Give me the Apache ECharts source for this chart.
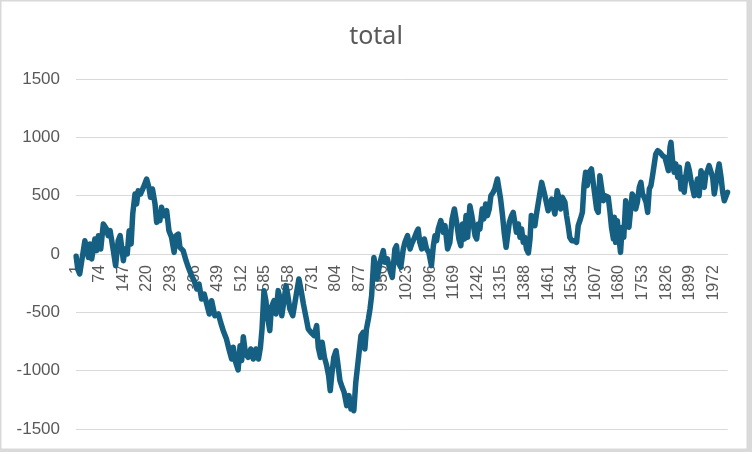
<!DOCTYPE html>
<html>
<head>
<meta charset="utf-8">
<script src="https://cdn.jsdelivr.net/npm/echarts@6/dist/echarts.min.js"></script>
<style>
html,body{margin:0;padding:0;background:#fff;}
#chart{width:752px;height:452px;}
</style>
</head>
<body>
<div id="chart"></div>
<script>
// Number of categories on the x axis (1..N)
const categoryCount = 2016;
// Category numbers (1-based) of the points
const pointCategory = [
1,6,12,18,28,39,44,49,59,64,70,77,85,95,100,106,116,123,131,137,142,147,152,159,165,171,176,183,188,193,200,209,219,226,231,237,245,250,255,260,265,273,281,288,296,304,310,317,322,332,341,348,
358,366,374,381,389,397,405,413,420,430,441,448,456,466,475,482,487,493,502,508,513,518,525,533,541,549,557,565,571,576,582,588,593,600,605,613,619,626,631,637,644,650,655,662,671,678,683,690,697,704,712,719,727,737,745,750,757,762,769,776,782,787,792,798,805,
810,817,824,830,838,845,851,856,860,866,874,882,889,894,899,905,910,915,918,922,927,932,941,951,956,964,972,979,987,992,997,1005,1013,1018,1026,1034,1039,1046,1054,1059,1064,1070,1078,1085,1092,1100,1106,1111,1116,1121,1129,1137,1142,1150,1157,1164,1171,1178,1185,
1191,1196,1202,1207,1212,1219,1225,1235,1240,1245,1250,1257,1262,1268,1273,1279,1284,1291,1296,1304,1309,1314,1320,1325,1331,1336,1341,1348,1353,1358,1363,1369,1374,1379,1384,1389,1394,1400,1405,1409,1415,1420,1425,1430,1436,1441,1446,1451,1456,1461,1467,1472,1477,1482,1489,1494,1500,1505,1513,1518,1523,1528,1534,1541,1549,1554,1561,1567,1572,1577,1582,1588,
1595,1601,1611,1616,1621,1627,1632,1637,1642,1647,1652,1657,1663,1666,1670,1675,1680,1685,1690,1695,1701,1706,1711,1716,1721,1726,1732,1737,1743,1748,1753,1758,1764,1769,1774,1779,1784,1789,1794,1800,1807,1815,1822,1828,1833,1838,1841,1846,1851,1856,1862,1867,1872,1877,1882,1888,1893,1898,1903,1908,1913,1918,1923,1928,1934,1939,1944,1949,1954,1959,1965,1970,1975,1980,1985,1990,1996,2001,2006,2011,2016
];
// "total" values at those categories
const totalValues = [
-20,-130,-171,-186,114,-29,86,-43,129,29,157,43,257,214,157,200,29,-100,114,157,57,-57,43,0,200,86,343,514,429,543,514,571,643,571,486,557,429,271,343,286,400,329,371,200,143,14,157,171,57,29,-57,-114,
-186,-229,-300,-257,-386,-343,-429,-514,-400,-529,-514,-586,-657,-729,-829,-900,-800,-914,-994,-786,-914,-709,-857,-886,-814,-900,-814,-900,-800,-643,-314,-400,-543,-657,-457,-400,-514,-314,-371,-529,-400,-271,-343,-471,-529,-414,-329,-214,-314,-429,-543,-643,-671,-700,-614,-800,-886,-757,-886,-957,-1043,-1171,-1029,-886,-829,
-929,-1086,-1143,-1186,-1300,-1214,-1329,-1286,-1343,-1100,-900,-700,-671,-814,-643,-557,-471,-357,-214,-29,-29,-214,-71,29,-71,-43,-143,-200,43,71,-71,-114,43,100,157,43,86,129,186,214,100,43,129,43,14,-100,71,157,114,214,286,186,243,43,100,300,386,271,129,
71,257,129,329,143,414,329,157,129,257,214,386,300,429,329,386,500,529,557,643,557,471,329,186,57,71,271,329,357,271,186,257,143,214,100,143,43,9,129,329,343,243,343,357,529,614,557,500,486,371,357,471,400,343,543,486,386,486,443,329,243,143,114,114,100,243,300,357,586,700,586,700,
729,600,386,357,671,686,457,500,514,486,371,229,129,314,100,286,143,14,229,143,457,286,229,214,514,486,386,443,571,614,514,486,443,357,557,586,671,686,857,886,871,843,829,771,714,914,957,800,700,771,657,743,557,657,529,686,771,714,629,643,500,500,643,500,714,657,571,686,714,757,771,657,514,600,700,771,657,529,457,443,529
];
// Y axis ticks
const yMin = -1500, yMax = 1500, yStep = 500;
const labelEvery = 73;

const categories = [];
for (let i = 1; i <= categoryCount; i++) categories.push(String(i));
const seriesData = pointCategory.map((c, i) => [c - 1, totalValues[i]]);

// layout of the plot area
const gridTop = 79, gridBottom = 23, chartH = 452;
const plotH = chartH - gridTop - gridBottom;
// place the category axis where the value axis crosses 0
const zeroOffset = -plotH * (0 - yMin) / (yMax - yMin);

const chart = echarts.init(document.getElementById('chart'), null, {renderer: 'canvas'});
chart.setOption({
  animation: false,
  backgroundColor: '#ffffff',
  title: {
    text: 'total',
    left: 'center',
    top: 19,
    textStyle: {fontFamily: 'Noto Sans', fontSize: 25, fontWeight: 'normal', color: '#595959'}
  },
  graphic: [
    {type: 'rect', shape: {x: 747, y: 0, width: 5, height: 452}, style: {fill: '#dadada'}, silent: true},
    {type: 'rect', shape: {x: 0, y: 449, width: 752, height: 3}, style: {fill: '#dadada'}, silent: true},
    {type: 'rect', shape: {x: 0.75, y: 0.75, width: 746.5, height: 448.5}, style: {fill: 'none', stroke: '#d9d9d9', lineWidth: 1.5}, silent: true}
  ],
  grid: {left: 76, right: 24.3, top: gridTop, bottom: gridBottom, containLabel: false, outerBoundsMode: 'none'},
  xAxis: {
    type: 'category',
    data: categories,
    boundaryGap: true,
    offset: zeroOffset,
    axisLine: {show: true, onZero: false, lineStyle: {color: '#d9d9d9', width: 1}},
    axisTick: {show: false},
    axisLabel: {
      interval: labelEvery - 1,
      rotate: 90,
      margin: 11,
      color: '#595959',
      fontFamily: 'Liberation Sans',
      fontSize: 16
    },
    splitLine: {show: false}
  },
  yAxis: {
    type: 'value',
    min: yMin,
    max: yMax,
    interval: yStep,
    axisLine: {show: false},
    axisTick: {show: false},
    axisLabel: {margin: 16, color: '#595959', fontFamily: 'Liberation Sans', fontSize: 17, formatter: v => String(v)},
    splitLine: {show: true, lineStyle: {color: '#d9d9d9', width: 1}}
  },
  series: [{
    type: 'line',
    name: 'total',
    data: seriesData,
    showSymbol: false,
    symbol: 'none',
    sampling: null,
    lineStyle: {color: '#156082', width: 5.5, cap: 'round', join: 'round'},
    itemStyle: {color: '#156082'}
  }]
});
</script>
</body>
</html>
